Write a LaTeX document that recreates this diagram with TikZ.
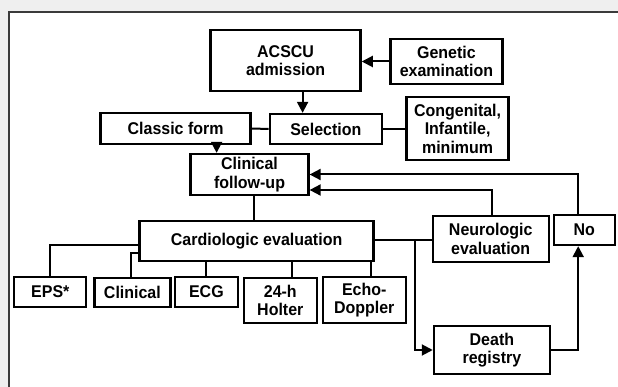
\documentclass[tikz,border=0pt]{standalone}
\usepackage{fontspec}
\newfontfamily\boxfont{Liberation Sans}[FakeStretch=0.94]
\usetikzlibrary{arrows.meta,positioning}
\definecolor{pagegray}{HTML}{EFEFEF}
\definecolor{framegray}{HTML}{3A3A3A}

\begin{document}
\begin{tikzpicture}[x=1pt,y=-1pt,
  box/.style={draw,line width=2.3pt,align=center,inner sep=1pt,font=\boxfont\bfseries\fontsize{17}{18.5}\selectfont},
  link/.style={line width=2pt},
  arr/.style={line width=2pt,-{Triangle[length=11pt,width=11pt]}}]
\useasboundingbox (0,0) rectangle (618,387);
\fill[pagegray] (0,0) rectangle (618,387);
\fill[white] (9,12) rectangle (618,387);
\draw[framegray,line width=1.2pt] (9,387) -- (9,12) -- (618,12);

\node[box,minimum width=150pt,minimum height=61pt] at (285.6,60.5) (acscu){ACSCU\\admission};
\node[box,minimum width=112pt,minimum height=45pt] at (446.4,61.5) (genetic){Genetic\\examination};
\node[box,minimum width=112pt,minimum height=30pt] at (325.8,129) (selection){Selection};
\node[box,minimum width=150pt,minimum height=31pt] at (175.6,128.5) (classic){Classic form};
\node[box,minimum width=102pt,minimum height=63pt] at (457.6,128.5) (congenital){Congenital,\\Infantile,\\minimum};
\node[box,minimum width=118pt,minimum height=41pt] at (249.5,174.5) (followup){Clinical\\follow-up};

\node[box,minimum width=234pt,minimum height=40pt] at (256.6,241) (cardio){Cardiologic evaluation};
\node[box,minimum width=116pt,minimum height=46pt] at (490.7,239) (neuro){Neurologic\\evaluation};
\node[box,minimum width=61pt,minimum height=30pt] at (584.2,230) (no){No};
\node[box,minimum width=116pt,minimum height=48pt] at (491.9,350) (death){Death\\registry};

\node[box,minimum width=72pt,minimum height=30pt] at (50.3,292) (eps){EPS*};
\node[box,minimum width=76pt,minimum height=29pt] at (132.4,292.5) (clinical){Clinical};
\node[box,minimum width=63pt,minimum height=30pt] at (206.4,292) (ecg){ECG};
\node[box,minimum width=73pt,minimum height=45pt] at (280.3,300.5) (holter){24-h\\Holter};
\node[box,minimum width=83pt,minimum height=46pt] at (364.2,300) (echo){Echo-\\Doppler};

\path[arr]
  (genetic.west) edge (genetic.west -| acscu.east)
  ([xshift=17pt]acscu.south) edge ([xshift=17pt]acscu.south |- selection.north)
  ([xshift=41pt]classic.south) edge ([xshift=41pt]classic.south |- followup.north);
\path[link]
  (classic.east) edge (selection.west)
  (selection.east) edge (selection.east -| congenital.west)
  ([xshift=4.7pt]followup.south) edge ([xshift=4.7pt]followup.south |- cardio.north)
  ([yshift=1pt]cardio.east) edge ([yshift=1pt]cardio.east -| neuro.west);

\coordinate (split) at ([xshift=40pt,yshift=1pt]cardio.east);
\draw[arr] (split) |- (death.west);
\draw[arr] (death.east) -| ([xshift=-6pt]no.south);
\draw[arr] ([xshift=-6pt]no.north) |- (followup.east);
\draw[arr] ([xshift=1pt]neuro.north) |- ([yshift=-15.5pt]followup.east);

\draw[link] ([yshift=-4pt]cardio.west) -| (eps.north);
\draw[link] ([yshift=-12pt]cardio.west) -| ([xshift=-1pt]clinical.north);
\draw[link] (ecg.north) -- (ecg.north |- cardio.south);
\draw[link] ([xshift=11.7pt]holter.north) -- ([xshift=11.7pt]holter.north |- cardio.south);
\draw[link] ([xshift=7pt]echo.north) -- ([xshift=7pt]echo.north |- cardio.south);
\end{tikzpicture}
\end{document}
